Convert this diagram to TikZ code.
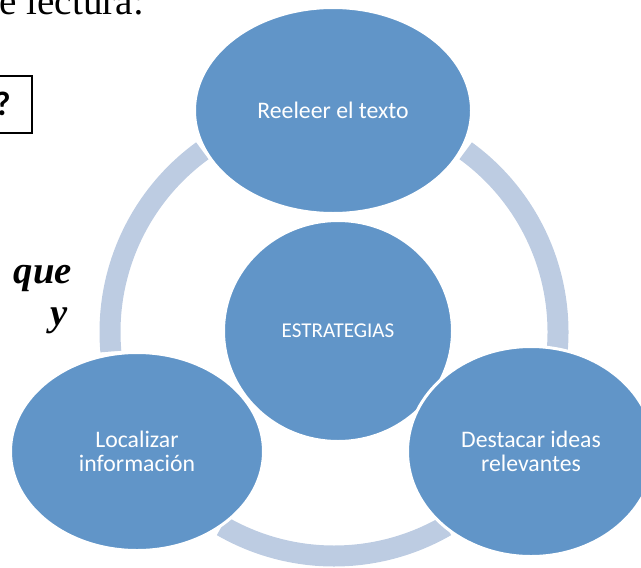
\documentclass[tikz,border=0pt]{standalone}
\usepackage{fontspec}
\setmainfont{Liberation Serif}
\newfontfamily\calib{Carlito}
\usepackage{xcolor}
\usepackage{tikz}
\usetikzlibrary{positioning,shapes.geometric}
\definecolor{bubblefill}{RGB}{97,149,200}
\definecolor{ringblue}{RGB}{189,204,226}

\begin{document}
\begin{tikzpicture}[x=0.75pt,y=0.75pt,
  bubble/.style={ellipse,fill=bubblefill,draw=white,line width=2.25pt,inner sep=0pt,
    text=white,align=center,font=\calib\fontsize{17.8}{17.6}\selectfont},
  ring/.style={ringblue,line width=15.75pt}]
\useasboundingbox (0,0) rectangle (641,-567);
\clip (0,0) rectangle (641,-567);

% page text around the diagram
\node[anchor=base west,inner sep=0pt,font=\fontsize{29.4}{30}\selectfont] (titulo) at (-1,-15) {e lectura:};
\draw[line width=0.9pt] (-30,-76) rectangle (32,-133);
\node[anchor=base east,inner sep=0pt,font=\calib\bfseries\fontsize{25.5}{26}\selectfont] (pregunta) at (11,-115) {?};
\node[anchor=base east,inner sep=0pt,font=\bfseries\itshape\fontsize{29}{30}\selectfont] (que) at (72,-283) {que};
\node[anchor=base east,inner sep=0pt,font=\bfseries\itshape\fontsize{29}{30}\selectfont] (conj) at (68,-325) {y};

% ring
\coordinate (hub) at (334,-332);
\foreach \a/\b in {126/185,54/-5,-120/-60}
  \draw[ring] ([shift={(\a:224)}]hub) arc[start angle=\a,end angle=\b,radius=224];

% bubbles
\node[bubble,minimum width=171.75pt,minimum height=165.75pt,font=\calib\fontsize{15.8}{16}\selectfont] (centro) at (338,-331) {ESTRATEGIAS};
\node[bubble,minimum width=207.75pt,minimum height=154.5pt] (releer) at (333,-110.5) {Reeleer el texto};
\node[bubble,minimum width=189.75pt,minimum height=148.5pt] (localizar) at (137,-451.5) {Localizar\\informaci\'on};
\node[bubble,minimum width=185.25pt,minimum height=157.5pt] (destacar) at (531,-451.5) {Destacar ideas\\relevantes};
\end{tikzpicture}
\end{document}
